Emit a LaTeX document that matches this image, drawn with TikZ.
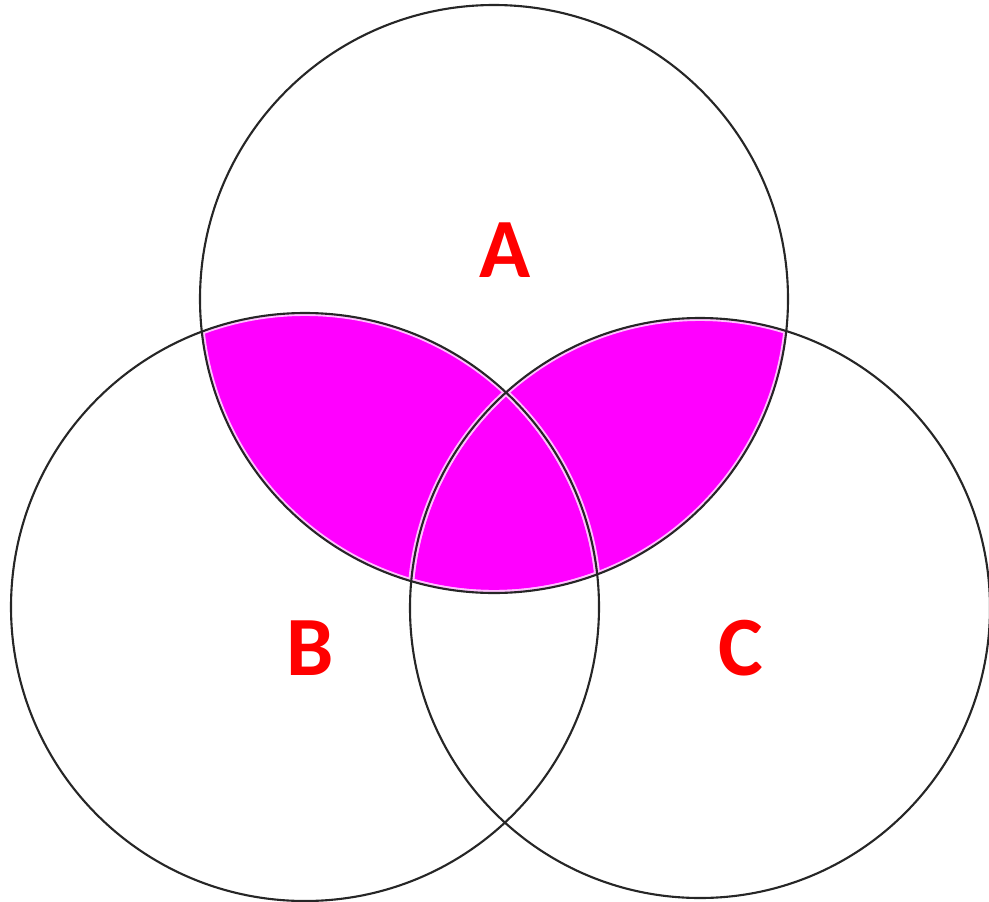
\documentclass[tikz,border=0pt]{standalone}
\usepackage{fontspec}
\setmainfont{Carlito}
\usepackage{xcolor}
\definecolor{shadecolor}{RGB}{255,0,255}
\definecolor{labelred}{RGB}{255,0,0}
\newcommand{\cA}{(494,299) circle (294)}
\newcommand{\cB}{(305,607) circle (294)}
\newcommand{\cC}{(700,608) circle (290)}

\begin{document}
\begin{tikzpicture}[
    x=0.025cm, y=-0.025cm,
    venncircle/.style={draw=black!85, line width=1.5pt},
    halo/.style={draw=shadecolor!25, line width=4.2pt},
    setlabel/.style={font=\fontsize{60}{60}\selectfont\bfseries, text=labelred}
]
\useasboundingbox (0,0) rectangle (989,902);

% shaded part: A and (B or C)
\begin{scope}
    \clip \cA;
    \fill[shadecolor] \cB;
    \fill[shadecolor] \cC;
\end{scope}

% light rim along the edges of the shaded part
\begin{scope}
    \clip \cA;
    \clip \cB;
    \draw[halo] \cA; \draw[halo] \cB; \draw[halo] \cC;
\end{scope}
\begin{scope}
    \clip \cA;
    \clip \cC;
    \draw[halo] \cA; \draw[halo] \cB; \draw[halo] \cC;
\end{scope}

\draw[venncircle] \cA;
\draw[venncircle] \cB;
\draw[venncircle] \cC;

\node[setlabel] (labA) at (505,250) {A};
\node[setlabel] (labB) at (310,648) {B};
\node[setlabel] (labC) at (741,648) {C};
\end{tikzpicture}
\end{document}
